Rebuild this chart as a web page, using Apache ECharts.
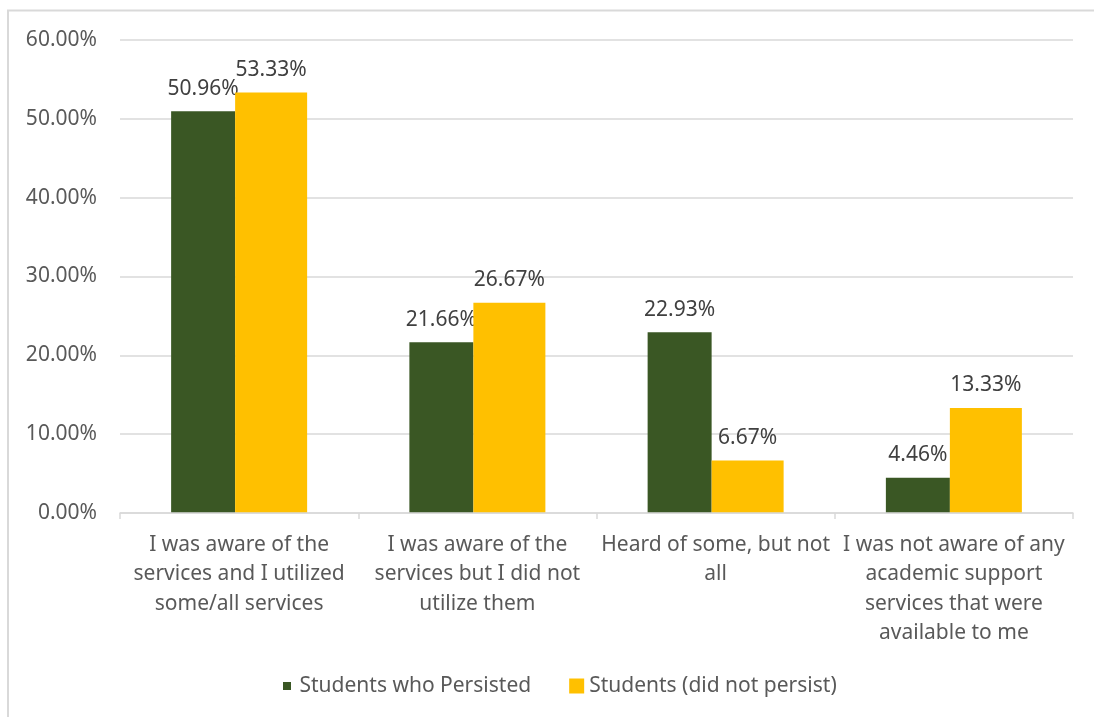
<!DOCTYPE html>
<html>
<head>
<meta charset="utf-8">
<script src="https://cdn.jsdelivr.net/npm/echarts@6/dist/echarts.min.js"></script>
<style>
  html, body { margin: 0; padding: 0; background: #fff; }
  #chart { width: 1094px; height: 717px; }
</style>
</head>
<body>
<div id="chart"></div>
<script>
// Awareness and use of academic support services
const categories = [
  'I was aware of the\nservices and I utilized\nsome/all services',
  'I was aware of the\nservices but I did not\nutilize them',
  'Heard of some, but not\nall',
  'I was not aware of any\nacademic support\nservices that were\navailable to me'
];
const persisted = [50.96, 21.66, 22.93, 4.46];
const notPersisted = [53.33, 26.67, 6.67, 13.33];
const seriesNames = ['Students who Persisted', 'Students (did not persist)'];
const yTicks = { min: 0, max: 60, interval: 10 };

const FONT = 'Noto Sans';
const SIZE = 21;
const GREEN = '#3A5724';
const GOLD = '#FFC000';

const chart = echarts.init(document.getElementById('chart'), null, { renderer: 'canvas' });

const pct = v => Number(v).toFixed(2) + '%';

const valueLabel = {
  show: true,
  position: 'top',
  distance: 12,
  color: '#404040',
  fontFamily: FONT,
  fontSize: SIZE,
  formatter: p => pct(p.value)
};

chart.setOption({
  animation: false,
  backgroundColor: '#ffffff',
  textStyle: { fontFamily: FONT },
  graphic: [{
    type: 'rect',
    silent: true,
    shape: { x: 8, y: 10.5, width: 2000, height: 2000 },
    style: { fill: 'none', stroke: '#d9d9d9', lineWidth: 2 }
  }],
  grid: { left: 120, right: 21, top: 40, bottom: 204, containLabel: false },
  legend: {
    bottom: 15,
    left: 271,
    itemWidth: 15,
    itemHeight: 15,
    itemGap: 38,
    textStyle: { fontFamily: FONT, fontSize: SIZE, color: '#595959' },
    data: [
      { name: seriesNames[0], icon: 'rect', itemStyle: { color: GREEN, borderColor: '#fff', borderWidth: 7 } },
      { name: seriesNames[1], icon: 'rect', itemStyle: { color: GOLD, borderColor: GOLD, borderWidth: 0 } }
    ]
  },
  xAxis: {
    type: 'category',
    data: categories,
    z: 5,
    axisLine: { show: true, lineStyle: { color: '#d9d9d9', width: 1.5 } },
    axisTick: { show: true, length: 6, lineStyle: { color: '#d9d9d9', width: 1.5 } },
    axisLabel: {
      interval: 0,
      margin: 17,
      color: '#595959',
      fontFamily: FONT,
      fontSize: SIZE,
      lineHeight: 29.5
    }
  },
  yAxis: {
    type: 'value',
    min: yTicks.min,
    max: yTicks.max,
    interval: yTicks.interval,
    axisLine: { show: false },
    axisTick: { show: false },
    axisLabel: {
      margin: 23,
      color: '#595959',
      fontFamily: FONT,
      fontSize: SIZE,
      formatter: pct
    },
    splitLine: { lineStyle: { color: '#d9d9d9', width: 1.5 } }
  },
  series: [
    {
      name: seriesNames[0],
      type: 'bar',
      data: persisted,
      barWidth: 64,
      barGap: '0%',
      z: 2,
      itemStyle: { color: GREEN },
      label: valueLabel
    },
    {
      name: seriesNames[1],
      type: 'bar',
      data: notPersisted,
      barWidth: 72,
      z: 3,
      itemStyle: { color: GOLD },
      label: valueLabel
    }
  ]
});
</script>
</body>
</html>
